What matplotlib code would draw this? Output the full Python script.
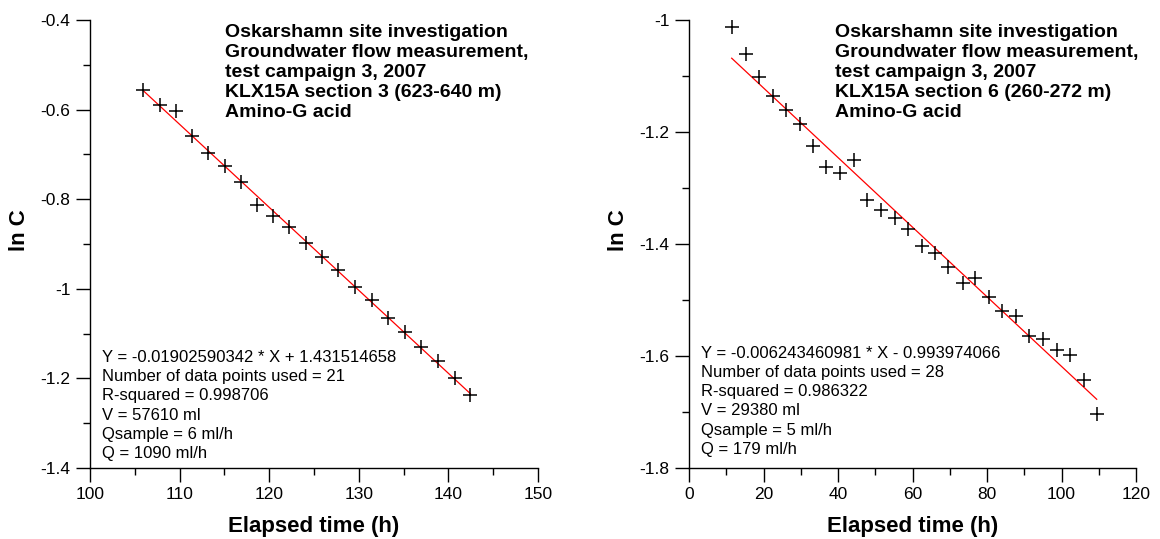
import numpy as np
import matplotlib.pyplot as plt
from matplotlib.ticker import MultipleLocator, FuncFormatter

plt.rcParams['font.family'] = ['Liberation Sans', 'DejaVu Sans']
plt.rcParams['axes.unicode_minus'] = False

# section 3 (623-640 m)
t_sec3 = [105.95, 107.81, 109.60, 111.42, 113.20, 115.03, 116.82, 118.67, 120.45,
          122.24, 124.11, 125.93, 127.71, 129.58, 131.44, 133.29, 135.12, 136.98,
          138.84, 140.71, 142.45]
lnc_sec3 = [-0.556, -0.590, -0.603, -0.659, -0.697, -0.727, -0.761, -0.813, -0.837,
            -0.863, -0.898, -0.928, -0.957, -0.995, -1.025, -1.066, -1.097, -1.130,
            -1.162, -1.198, -1.237]

# section 6 (260-272 m)
t_sec6 = [11.46, 15.30, 18.87, 22.63, 26.04, 29.80, 33.37, 36.78, 40.54, 44.30,
          47.87, 51.46, 55.30, 58.71, 62.47, 66.04, 69.61, 73.48, 76.78, 80.62,
          83.95, 87.79, 91.36, 95.11, 98.71, 102.28, 106.04, 109.45]
lnc_sec6 = [-1.013, -1.060, -1.101, -1.135, -1.160, -1.186, -1.225, -1.263, -1.274,
            -1.250, -1.321, -1.339, -1.354, -1.374, -1.404, -1.416, -1.441, -1.469,
            -1.461, -1.495, -1.520, -1.529, -1.564, -1.570, -1.589, -1.599, -1.642,
            -1.704]

title_sec3 = ['Oskarshamn site investigation', 'Groundwater flow measurement,',
              'test campaign 3, 2007', 'KLX15A section 3 (623-640 m)', 'Amino-G acid']
title_sec6 = ['Oskarshamn site investigation', 'Groundwater flow measurement,',
              'test campaign 3, 2007', 'KLX15A section 6 (260-272 m)', 'Amino-G acid']

stats_sec3 = ['Y = -0.01902590342 * X + 1.431514658', 'Number of data points used = 21',
              'R-squared = 0.998706', 'V = 57610 ml', 'Qsample = 6 ml/h', 'Q = 1090 ml/h']
stats_sec6 = ['Y = -0.006243460981 * X - 0.993974066', 'Number of data points used = 28',
              'R-squared = 0.986322', 'V = 29380 ml', 'Qsample = 5 ml/h', 'Q = 179 ml/h']

W, H = 1160, 539
fig = plt.figure(figsize=(W / 100, H / 100), dpi=100)

fmt = FuncFormatter(lambda v, p: '%g' % round(v, 6))


def panel(rect, t, lnc, xlim, ylim, xstep, title, stats, tx, sy):
    ax = fig.add_axes(rect)
    ax.set_xlim(*xlim)
    ax.set_ylim(*ylim)

    # least-squares line over the measured time span
    t = np.asarray(t)
    lnc = np.asarray(lnc)
    k, m = np.polyfit(t, lnc, 1)
    tt = np.array([t.min(), t.max()])
    ax.plot(tt, k * tt + m, color='#ff0000', lw=0.9, zorder=2)
    ax.plot(t, lnc, ls='none', marker='+', ms=10, mew=1.1, color='black', zorder=3)

    for s in ('top', 'right'):
        ax.spines[s].set_visible(False)
    for s in ('left', 'bottom'):
        ax.spines[s].set_linewidth(1.0)

    ax.xaxis.set_major_locator(MultipleLocator(xstep))
    ax.xaxis.set_minor_locator(MultipleLocator(xstep / 2))
    ax.yaxis.set_major_locator(MultipleLocator(0.2))
    ax.yaxis.set_minor_locator(MultipleLocator(0.1))
    ax.xaxis.set_major_formatter(fmt)
    ax.yaxis.set_major_formatter(fmt)
    ax.tick_params(which='major', direction='out', length=10, width=1.0,
                   labelsize=12.5, pad=4)
    ax.tick_params(which='minor', direction='out', length=5, width=1.0)

    ax.set_xlabel('Elapsed time (h)', fontsize=16, fontweight='bold')
    ax.xaxis.set_label_coords(0.5, -0.108)
    ax.set_ylabel('ln C', fontsize=16, fontweight='bold')
    ax.yaxis.set_label_coords(-0.135, 0.53)

    for i, line in enumerate(title):
        ax.text(tx, 0.972 - i * 0.0446, line, transform=ax.transAxes,
                fontsize=14, fontweight='bold', ha='left', va='center')
    for i, line in enumerate(stats):
        ax.text(0.027, sy - i * 0.0429, line, transform=ax.transAxes,
                fontsize=12, ha='left', va='center')
    return ax


panel([90 / W, 71 / H, 448 / W, 448 / H], t_sec3, lnc_sec3, (100, 150), (-1.4, -0.4), 10,
      title_sec3, stats_sec3, 0.301, 0.247)
panel([689 / W, 71 / H, 447 / W, 448 / H], t_sec6, lnc_sec6, (0, 120), (-1.8, -1.0), 20,
      title_sec6, stats_sec6, 0.327, 0.256)

fig.savefig('out.png', dpi=100)
